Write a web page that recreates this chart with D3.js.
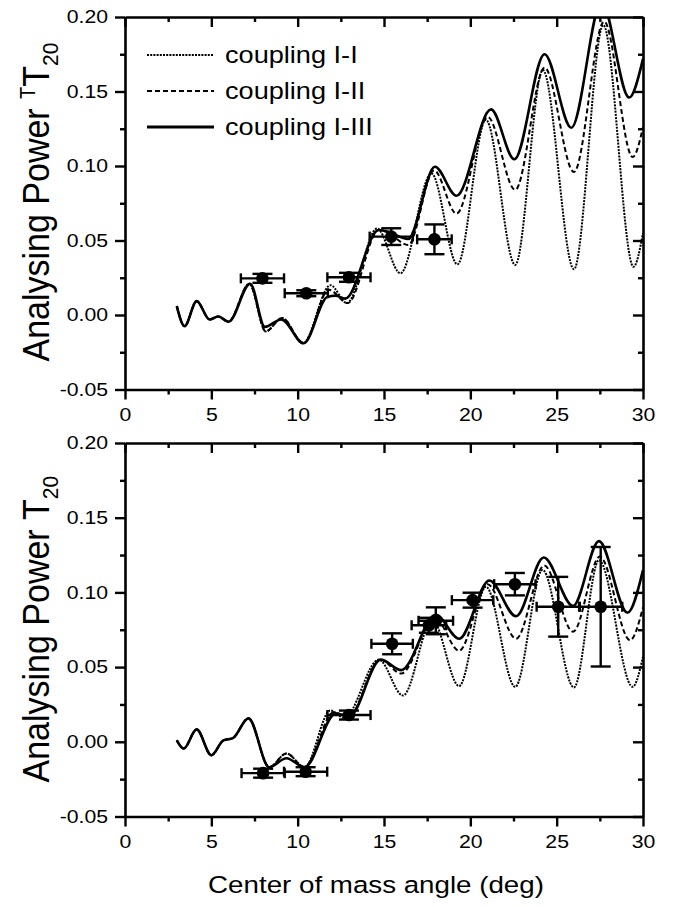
<!DOCTYPE html>
<html><head><meta charset="utf-8">
<script src="https://cdn.jsdelivr.net/npm/d3@7"></script>
<style>body{margin:0;background:#fff}text{font-family:"Liberation Sans",Arial,sans-serif;fill:#000}</style>
</head><body><svg id="c" width="673" height="907"></svg>
<script>
// ---------- data ----------
const xDomain = [0, 30];
const yDomain = [-0.05, 0.2];
const xMajorTicks = [0, 5, 10, 15, 20, 25, 30];
const xMinorTicks = [2.5, 7.5, 12.5, 17.5, 22.5, 27.5];
const yMajorTicks = [-0.05, 0, 0.05, 0.1, 0.15, 0.2];
const yTickLabels = ["-0.05", "0.00", "0.05", "0.10", "0.15", "0.20"];
const yMinorTicks = [-0.025, 0.025, 0.075, 0.125, 0.175];
const seriesNames = ["coupling I-I", "coupling I-II", "coupling I-III"];

// top panel curves [angle, T20]
const topI_I = [[3.0,0.006],[3.45,-0.0075],[4.15,0.0093],[4.9,-0.003],[5.4,-0.001],[6.0,-0.0045],[7.2,0.021],[8.15,-0.011],[9.1,-0.002],[10.3,-0.019],[11.9,0.020],[12.85,0.008],[14.6,0.058],[15.95,0.028],[17.75,0.095],[19.25,0.034],[20.9,0.131],[22.6,0.0336],[24.2,0.1644],[26.0,0.0307],[27.7,0.1946],[29.45,0.0324],[30,0.055]];
const topI_II = [[3.0,0.006],[3.45,-0.0075],[4.15,0.0093],[4.9,-0.003],[5.4,-0.001],[6.0,-0.0045],[7.2,0.021],[8.15,-0.011],[9.1,-0.002],[10.35,-0.019],[11.8,0.017],[12.9,0.008],[14.7,0.057],[15.1,0.056],[16.4,0.047],[17.9,0.097],[19.2,0.068],[21.0,0.133],[22.6,0.084],[24.3,0.166],[26.0,0.096],[27.75,0.197],[29.4,0.106],[30,0.126]];
const topI_III = [[3.0,0.006],[3.45,-0.0075],[4.15,0.0093],[4.9,-0.003],[5.4,-0.001],[6.0,-0.0045],[7.25,0.021],[8.1,-0.008],[9.05,-0.003],[10.35,-0.019],[11.7,0.012],[12.2,0.013],[12.75,0.011],[14.7,0.057],[15.2,0.056],[16.4,0.051],[17.95,0.0995],[19.2,0.080],[21.2,0.138],[22.55,0.1045],[24.3,0.175],[25.85,0.1257],[27.6,0.21],[29.2,0.146],[30,0.172]];
const topExpX    = [7.96, 10.5, 12.97, 15.42, 17.92];
const topExpY    = [0.0246, 0.0146, 0.0253, 0.0526, 0.0508];
const topExpXErr = [1.25, 1.25, 1.25, 1.25, 1.0];
const topExpYErr = [0.003, 0.002, 0.003, 0.0056, 0.010];

// bottom panel curves
const botI_I = [[3.0,0.001],[3.4,-0.0045],[4.15,0.0083],[5.0,-0.009],[5.7,0.001],[6.25,0.0025],[7.15,0.0157],[8.35,-0.017],[9.35,-0.0078],[10.4,-0.017],[11.9,0.021],[12.7,0.016],[14.7,0.055],[16.1,0.031],[17.8,0.0815],[19.35,0.0373],[20.9,0.1038],[22.6,0.0368],[24.18,0.115],[26.0,0.0364],[27.45,0.1216],[29.4,0.0368],[30,0.057]];
const botI_II = [[3.0,0.001],[3.4,-0.0045],[4.15,0.0083],[5.0,-0.009],[5.7,0.001],[6.25,0.0025],[7.15,0.0157],[8.35,-0.017],[9.35,-0.0078],[10.4,-0.017],[12.1,0.020],[12.9,0.016],[14.8,0.055],[16.0,0.0457],[17.95,0.083],[19.35,0.061],[21.0,0.1055],[22.65,0.069],[24.28,0.118],[25.95,0.0737],[27.5,0.124],[29.25,0.068],[30,0.09]];
const botI_III = [[3.0,0.001],[3.4,-0.0045],[4.15,0.0083],[5.0,-0.009],[5.7,0.001],[6.25,0.0025],[7.15,0.0157],[8.35,-0.017],[9.35,-0.011],[10.4,-0.017],[12.2,0.019],[13.0,0.017],[14.8,0.055],[16.0,0.048],[18.0,0.085],[19.35,0.069],[21.1,0.108],[22.65,0.084],[24.25,0.1234],[25.95,0.091],[27.45,0.1343],[29.1,0.0864],[30,0.115]];
const botExpX    = [8.0, 10.46, 12.97, 15.47, 17.6, 18.0, 20.13, 22.58, 25.09, 27.55];
const botExpY    = [-0.021, -0.020, 0.0179, 0.0656, 0.078, 0.081, 0.0948, 0.1055, 0.0904, 0.0904];
const botExpXErr = [1.25, 1.25, 1.25, 1.2, 1.0, 1.0, 1.2, 1.2, 1.25, 1.25];
const botExpYErr = [0.003, 0.003, 0.003, 0.007, 0.005, 0.009, 0.005, 0.0075, 0.020, 0.040];

// ---------- drawing ----------
const SX = 1.18; // horizontal stretch of the original picture
const svg = d3.select("#c");
const x = d3.scaleLinear().domain(xDomain).range([125, 643]);
const styles = [
  {w: 2, dash: "2,1.2"},
  {w: 2, dash: "5,3"},
  {w: 2.6, dash: null}
];

function panel(id, y0, y1, curves, ex, ey, exe, eye) {
  const y = d3.scaleLinear().domain(yDomain).range([y1, y0]);
  const g = svg.append("g");
  g.append("clipPath").attr("id", "clip" + id).append("rect")
    .attr("x", x(0)).attr("y", y(0.2)).attr("width", x(30) - x(0)).attr("height", y(-0.05) - y(0.2));

  const line = d3.line().x(d => x(d[0])).y(d => y(d[1])).curve(d3.curveMonotoneX);
  const cg = g.append("g").attr("clip-path", `url(#clip${id})`);
  curves.forEach((c, i) => {
    cg.append("path").attr("d", line(c)).attr("fill", "none").attr("stroke", "#000")
      .attr("stroke-width", styles[i].w).attr("stroke-dasharray", styles[i].dash);
  });

  // experimental points
  const eg = g.append("g").attr("stroke", "#000").attr("stroke-width", 2.4);
  ex.forEach((xv, i) => {
    const cx = x(xv), cy = y(ey[i]);
    const xl = x(xv - exe[i]), xr = x(xv + exe[i]);
    const yt = y(ey[i] + eye[i]), yb = y(ey[i] - eye[i]);
    eg.append("line").attr("x1", xl).attr("x2", xr).attr("y1", cy).attr("y2", cy);
    eg.append("line").attr("x1", xl).attr("x2", xl).attr("y1", cy - 5).attr("y2", cy + 5);
    eg.append("line").attr("x1", xr).attr("x2", xr).attr("y1", cy - 5).attr("y2", cy + 5);
    eg.append("line").attr("x1", cx).attr("x2", cx).attr("y1", yt).attr("y2", yb);
    eg.append("line").attr("x1", cx - 10).attr("x2", cx + 10).attr("y1", yt).attr("y2", yt);
    eg.append("line").attr("x1", cx - 10).attr("x2", cx + 10).attr("y1", yb).attr("y2", yb);
    eg.append("circle").attr("cx", cx).attr("cy", cy).attr("r", 6.3).attr("fill", "#000").attr("stroke", "none");
  });

  // axes
  const styleAxis = sel => {
    sel.selectAll("path,line").attr("stroke", "#000").attr("stroke-width", 2.4);
    sel.select(".domain").attr("stroke-width", 2.6);
  };
  const ab = g.append("g").attr("transform", `translate(0,${y(-0.05)})`)
    .call(d3.axisBottom(x).tickValues(xMajorTicks).tickSize(10).tickSizeOuter(0).tickPadding(9).tickFormat(d3.format("d")));
  ab.call(styleAxis);
  ab.selectAll("text").attr("font-size", 18).attr("font-family", "Liberation Sans, Arial, sans-serif").attr("fill", "#000")
    .attr("transform", `scale(${SX},1)`);
  g.append("g").attr("transform", `translate(0,${y(-0.05)})`)
    .call(d3.axisBottom(x).tickValues(xMinorTicks).tickSize(5).tickSizeOuter(0).tickFormat(""))
    .call(styleAxis).select(".domain").remove();
  g.append("g").attr("transform", `translate(0,${y(0.2)})`)
    .call(d3.axisTop(x).tickValues(xMajorTicks).tickSize(-10).tickSizeOuter(0).tickFormat(""))
    .call(styleAxis);
  g.append("g").attr("transform", `translate(0,${y(0.2)})`)
    .call(d3.axisTop(x).tickValues(xMinorTicks).tickSize(-5).tickSizeOuter(0).tickFormat(""))
    .call(styleAxis).select(".domain").remove();
  const al = g.append("g").attr("transform", `translate(${x(0)},0)`)
    .call(d3.axisLeft(y).tickValues(yMajorTicks).tickSize(10).tickSizeOuter(0).tickPadding(6)
      .tickFormat((d, i) => yTickLabels[i]));
  al.call(styleAxis);
  al.selectAll("text").attr("font-size", 18).attr("font-family", "Liberation Sans, Arial, sans-serif").attr("fill", "#000")
    .attr("x", -17 / SX).attr("transform", `scale(${SX},1)`);
  g.append("g").attr("transform", `translate(${x(0)},0)`)
    .call(d3.axisLeft(y).tickValues(yMinorTicks).tickSize(5).tickSizeOuter(0).tickFormat(""))
    .call(styleAxis).select(".domain").remove();
  g.append("g").attr("transform", `translate(${x(30)},0)`)
    .call(d3.axisRight(y).tickValues(yMajorTicks).tickSize(-10).tickSizeOuter(0).tickFormat(""))
    .call(styleAxis);
  g.append("g").attr("transform", `translate(${x(30)},0)`)
    .call(d3.axisRight(y).tickValues(yMinorTicks).tickSize(-5).tickSizeOuter(0).tickFormat(""))
    .call(styleAxis).select(".domain").remove();

  return {g, y};
}

const topP = panel("t", 17, 389.5, [topI_I, topI_II, topI_III], topExpX, topExpY, topExpXErr, topExpYErr);
const botP = panel("b", 443, 816.5, [botI_I, botI_II, botI_III], botExpX, botExpY, botExpXErr, botExpYErr);

// legend (top panel)
const lg = svg.append("g");
seriesNames.forEach((n, i) => {
  const ly = 55 + i * 36;
  lg.append("line").attr("x1", 147).attr("x2", 214).attr("y1", ly).attr("y2", ly)
    .attr("stroke", "#000").attr("stroke-width", styles[i].w + (i === 2 ? 0.6 : 0)).attr("stroke-dasharray", styles[i].dash);
  lg.append("text").attr("transform", `translate(225,${ly + 8}) scale(${SX},1)`)
    .attr("font-size", 23).text(n);
});

// y titles
function yTitle(yStart, withPre) {
  const t = svg.append("text").attr("transform", `translate(49,${yStart}) scale(1.08,1) rotate(-90)`)
    .attr("text-anchor", "start").attr("font-size", 34);
  t.append("tspan").text("Analysing Power  ");
  if (withPre) t.append("tspan").attr("font-size", 20).attr("dy", -13).text("T");
  t.append("tspan").attr("dy", withPre ? 13 : 0).text("T");
  t.append("tspan").attr("font-size", 21).attr("dy", 8).text("20");
}
yTitle(topP.y(-0.05) - 28, true);
yTitle(botP.y(-0.05) - 34, false);

// x title
svg.append("text").attr("transform", `translate(376,893) scale(${SX},1)`)
  .attr("text-anchor", "middle").attr("font-size", 23.5).text("Center of mass angle (deg)");
</script></body></html>
